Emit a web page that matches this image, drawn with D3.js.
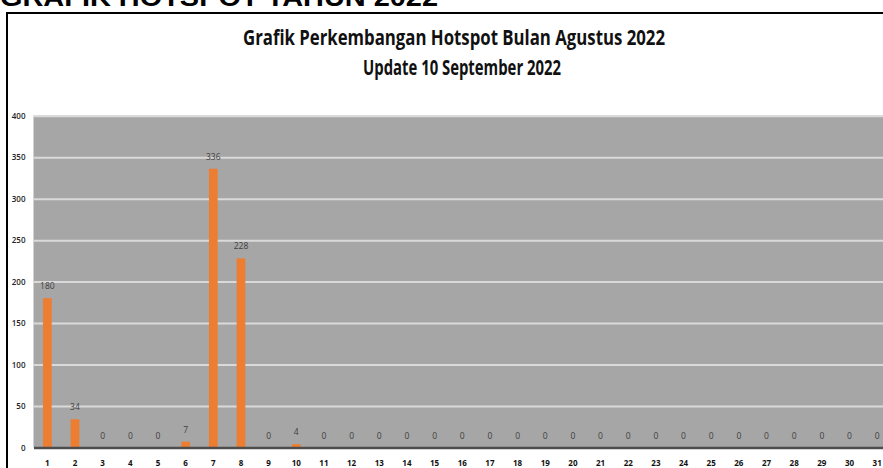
<!DOCTYPE html>
<html>
<head>
<meta charset="utf-8">
<script src="https://d3js.org/d3.v7.min.js"></script>
<style>
  body { margin: 0; background: #fff; overflow: hidden; }
  text { font-family: "Open Sans", "Noto Sans", sans-serif; }
</style>
</head>
<body>
<svg id="drawing_region"></svg>
<script>
// hotspot count per day, August 2022
var days = d3.range(1, 32).map(String);
var hotspots = [180, 34, 0, 0, 0, 7, 336, 228, 0, 4,
                0, 0, 0, 0, 0, 0, 0, 0, 0, 0,
                0, 0, 0, 0, 0, 0, 0, 0, 0, 0, 0];
var yticks = [0, 50, 100, 150, 200, 250, 300, 350, 400];
var heading = "GRAFIK HOTSPOT TAHUN 2022";
var title1 = "Grafik Perkembangan Hotspot Bulan Agustus 2022";
var title2 = "Update 10 September 2022";

var data = days.map((d, i) => ({ day: d, value: hotspots[i] }));

class BarChart {
    constructor( config, data ) {
        this.config = config;
        this.data = data;
        this.init();
    }

    init() {
        let self = this;
        self.svg = d3.select( self.config.parent )
            .attr('width', self.config.width)
            .attr('height', self.config.height);

        // clipped page heading
        self.svg.append('text')
            .attr('x', 0)
            .attr('y', 6)
            .attr('font-size', 26)
            .attr('font-weight', 'bold')
            .attr('fill', '#000')
            .attr('textLength', 438)
            .attr('lengthAdjust', 'spacingAndGlyphs')
            .style('font-family', '"Liberation Sans", Arial, sans-serif')
            .text(heading);

        // frame
        self.svg.append('rect')
            .attr('x', 7).attr('y', 13)
            .attr('width', 950).attr('height', 600)
            .attr('fill', 'none')
            .attr('stroke', '#000')
            .attr('stroke-width', 2);

        self.svg.append('text')
            .attr('x', 454).attr('y', 45)
            .attr('text-anchor', 'middle')
            .attr('font-size', 22)
            .attr('font-weight', 'bold')
            .attr('fill', '#111')
            .attr('textLength', 422)
            .attr('lengthAdjust', 'spacingAndGlyphs')
            .text(title1);

        self.svg.append('text')
            .attr('x', 462).attr('y', 75)
            .attr('text-anchor', 'middle')
            .attr('font-size', 22)
            .attr('font-weight', 'bold')
            .attr('fill', '#111')
            .attr('textLength', 198)
            .attr('lengthAdjust', 'spacingAndGlyphs')
            .text(title2);

        self.xscale = d3.scaleBand()
            .domain( self.data.map(d => d.day) )
            .range( [self.config.left, self.config.right] )
            .paddingInner(0.685)
            .paddingOuter(0.3425);

        self.yscale = d3.scaleLinear()
            .domain( [0, 400] )
            .range( [self.config.bottom, self.config.top] );

        self.chart = self.svg.append('g');
    }

    render() {
        let self = this;
        const c = self.config;

        self.chart.append('rect')
            .attr('x', c.left).attr('y', c.top)
            .attr('width', c.right - c.left)
            .attr('height', c.bottom - c.top)
            .attr('fill', '#a6a6a6');

        const yaxis = d3.axisLeft( self.yscale )
            .tickValues( yticks )
            .tickSize( -(c.right - c.left) )
            .tickPadding( 8 );

        const yg = self.chart.append('g')
            .attr('transform', `translate(${c.left}, 0)`)
            .call( yaxis );
        yg.select('.domain').remove();
        yg.selectAll('.tick line')
            .attr('stroke', '#d9d9d9')
            .attr('stroke-width', 2)
            .filter(d => d === 0).remove();
        yg.selectAll('.tick text')
            .attr('font-size', 8)
            .attr('fill', '#222')
            .attr('font-weight', 600);

        self.chart.selectAll('.bar')
            .data(self.data)
            .join('rect')
            .attr('class', 'bar')
            .attr('x', d => self.xscale(d.day))
            .attr('width', self.xscale.bandwidth())
            .attr('y', d => self.yscale(d.value))
            .attr('height', d => self.yscale(0) - self.yscale(d.value))
            .attr('fill', '#ed7d31');

        self.chart.selectAll('.lbl')
            .data(self.data)
            .join('text')
            .attr('class', 'lbl')
            .attr('x', d => self.xscale(d.day) + self.xscale.bandwidth() / 2)
            .attr('y', d => self.yscale(d.value) - 9)
            .attr('text-anchor', 'middle')
            .attr('font-size', 8.5)
            .attr('fill', '#404040')
            .text(d => d.value);

        const xaxis = d3.axisBottom( self.xscale )
            .tickSize(0)
            .tickPadding(13);

        const xg = self.chart.append('g')
            .attr('transform', `translate(0, ${c.bottom})`)
            .call( xaxis );
        xg.select('.domain')
            .attr('stroke', '#4d4d4d')
            .attr('stroke-width', 2.5);
        xg.selectAll('.tick text')
            .attr('font-size', 8)
            .attr('font-weight', 'bold')
            .attr('fill', '#111');
    }
}

const chart = new BarChart({
    parent: '#drawing_region',
    width: 883, height: 468,
    left: 33.5, right: 891, top: 115.7, bottom: 447.5
}, data);
chart.render();
</script>
</body>
</html>
